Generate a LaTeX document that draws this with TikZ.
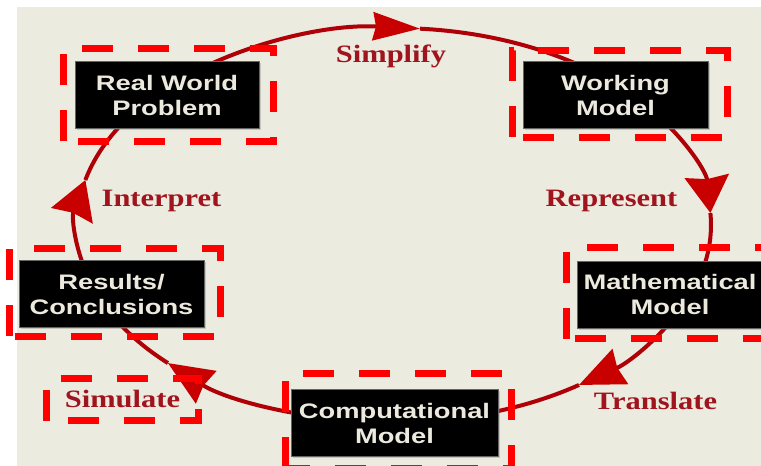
\documentclass[tikz,border=0pt]{standalone}
\usepackage{fontspec}
\usetikzlibrary{arrows.meta,calc,shadows}
\newfontfamily\boxfont[FakeStretch=1.3]{Liberation Sans}
\newfontfamily\labfont[FakeStretch=1.22]{Liberation Serif}
\definecolor{paper}{RGB}{236,235,224}
\definecolor{loopred}{RGB}{175,0,8}
\definecolor{tipred}{RGB}{200,0,0}
\definecolor{labred}{RGB}{160,20,30}
\definecolor{boxtext}{RGB}{236,234,222}
\tikzset{
  stagebox/.style={fill=black, draw=black!60, thin, minimum width=#1, minimum height=67pt,
    inner sep=0pt, align=center, text=boxtext, font=\boxfont\bfseries\fontsize{21}{25}\selectfont,
    drop shadow={shadow xshift=2pt, shadow yshift=-2pt, opacity=0.35}},
  steplabel/.style={text=labred, anchor=base, font=\labfont\bfseries\fontsize{25}{28}\selectfont},
  loopline/.style={draw=loopred, line width=4pt},
  hilite/.style={draw=red, line width=7pt, dash pattern=on 31pt off 25pt}
}
\begin{document}
\begin{tikzpicture}[x=1pt,y=1pt]
		\def\rx{317pt}
		\def\ry{197pt}
		\useasboundingbox (0,0) rectangle (761,466);
		\clip (0,0) rectangle (761,466);
		\fill[paper] (17,0) rectangle (761,459);
		\coordinate (ctr) at (394,241);
		% ciclo con frecce
		\foreach \sa/\ta/\ea/\tl/\tw in {138/85.3/40/47/28, 40/3.5/-20/37/44, -20/-54.3/-90/45/38, -90/-135.5/-160/45/38, -160/-193.2/-222/38/44}{
			\draw[loopline, -{Stealth[length=\tl pt, width=\tw pt, inset=3pt, color=tipred]}] ($(ctr)+(\sa:317pt and 197pt)$) arc[start angle=\sa, end angle=\ta, x radius=\rx, y radius=\ry];
			\draw[loopline] ($(ctr)+(\ta:317pt and 197pt)$) arc[start angle=\ta, end angle=\ea, x radius=\rx, y radius=\ry];
		}
		% blocchi
		\node[stagebox=184pt] (rwp) at (167,371) {Real World\\Problem};
		\node[stagebox=185pt] (wm) at (615.5,371) {Working\\Model};
		\node[stagebox=186pt] (mm) at (670,171.5) {Mathematical\\Model};
		\node[stagebox=207pt] (cm) at (394.5,43) {Computational\\Model};
		\node[stagebox=185pt] (rc) at (111.5,172) {Results/\\Conclusions};
		% passi
		\node[steplabel] (simp) at (391,403) {Simplify};
		\node[steplabel] (repr) at (611.5,259) {Represent};
		\node[steplabel] (tran) at (655.5,56) {Translate};
		\node[steplabel] (simu) at (122.5,58) {Simulate};
		\node[steplabel] (intp) at (161.5,259) {Interpret};
		% riquadri tratteggiati
		\foreach \n/\dx/\dy/\ex/\ey in {rwp/-11.5/-12.5/14/13, wm/-10/-8.5/19/10.5, mm/-10/-10.5/12/13.5, cm/-5/-11.5/13/16, rc/-9/-8.5/16.5/11.5}
			\draw[hilite] ($(\n.south west)+(\dx,\dy)$) rectangle ($(\n.north east)+(\ex,\ey)$);
		\draw[hilite] ($(simu.base)+(-76,-13)$) rectangle ($(simu.base)+(76,29)$);
	\end{tikzpicture}
\end{document}
